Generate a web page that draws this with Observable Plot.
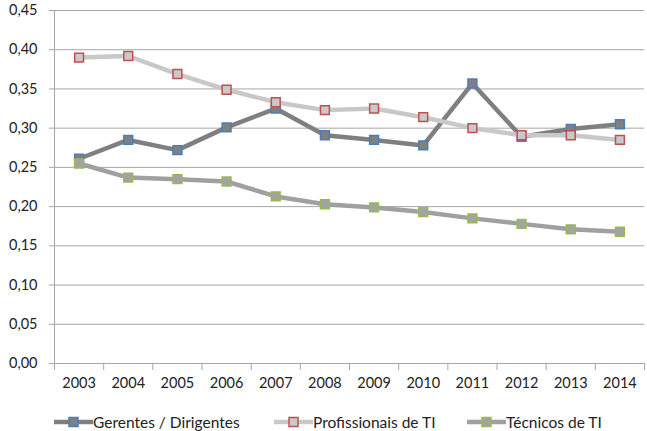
<!DOCTYPE html>
<html>
<head>
<meta charset="utf-8">
<script src="https://cdn.jsdelivr.net/npm/d3@7"></script>
<script src="https://cdn.jsdelivr.net/npm/@observablehq/plot@0.6"></script>
<style>
  html, body { margin: 0; padding: 0; background: #fff; }
  #chart { width: 647px; }
  #legend { height: 31px; font-family: Lato, sans-serif; font-size: 15.5px; color: #222; position: relative; }
  .item { position: absolute; display: flex; align-items: center; top: 13px; }
</style>
</head>
<body>
<div id="chart"></div>
<div id="legend"></div>
<script>
const years = [2003, 2004, 2005, 2006, 2007, 2008, 2009, 2010, 2011, 2012, 2013, 2014];
const gerentes = [0.261, 0.285, 0.272, 0.301, 0.325, 0.291, 0.285, 0.278, 0.357, 0.289, 0.299, 0.305];
const profissionais = [0.390, 0.392, 0.369, 0.349, 0.333, 0.323, 0.325, 0.314, 0.300, 0.291, 0.291, 0.285];
const tecnicos = [0.255, 0.237, 0.235, 0.232, 0.213, 0.203, 0.199, 0.193, 0.185, 0.178, 0.171, 0.168];
const seriesNames = ["Gerentes / Dirigentes", "Profissionais de TI", "Técnicos de TI"];
const yTicks = [0, 0.05, 0.10, 0.15, 0.20, 0.25, 0.30, 0.35, 0.40, 0.45];

const styles = [
  {line: "#7f7f7f", fill: "#808080", border: "#4a7ebb"},
  {line: "#c8c8c8", fill: "#c9c9c9", border: "#c0504d"},
  {line: "#a0a0a0", fill: "#a3a3a3", border: "#98b954"}
];
const allValues = [gerentes, profissionais, tecnicos];
const series = allValues.map((vals, i) => vals.map((v, j) => ({year: years[j], value: v, name: seriesNames[i]})));
const boundaries = [...years.map(y => y - 0.5), years[years.length - 1] + 0.5];

const fmt = d => d.toFixed(2).replace(".", ",");

const marks = [
  Plot.gridY(yTicks, {stroke: "#a6a6a6", strokeOpacity: 1, strokeWidth: 1}),
  Plot.axisY(yTicks, {tickSize: 5, tickPadding: 12, tickFormat: fmt, stroke: "#a6a6a6", fill: "#222", label: null}),
  Plot.ruleX([boundaries[0]], {stroke: "#a6a6a6"}),
  Plot.ruleY([0], {stroke: "#a6a6a6"}),
  Plot.axisX(boundaries, {tickSize: 7, tickFormat: () => "", stroke: "#a6a6a6", label: null}),
  Plot.axisX(years, {tickSize: 0, tickPadding: 14, tickFormat: d => String(d), fill: "#222", label: null})
];
series.forEach((s, i) => {
  marks.push(Plot.line(s, {x: "year", y: "value", stroke: styles[i].line, strokeWidth: 4.5, strokeLinejoin: "round"}));
  marks.push(Plot.dot(s, {x: "year", y: "value", symbol: "square", r: 5, fill: styles[i].fill, stroke: styles[i].border, strokeWidth: 1.5}));
});

const chart = Plot.plot({
  width: 647,
  height: 400,
  marginLeft: 54,
  marginRight: 3,
  marginTop: 10,
  marginBottom: 37,
  style: {fontFamily: "Lato, sans-serif", fontSize: "14.5px", background: "#fff", color: "#222"},
  x: {type: "linear", domain: [boundaries[0], boundaries[boundaries.length - 1]], axis: null},
  y: {domain: [0, 0.45], axis: null},
  marks
});
document.getElementById("chart").appendChild(chart);

// Legend
const legend = document.getElementById("legend");
const lefts = [54, 274, 467];
seriesNames.forEach((name, i) => {
  const item = document.createElement("div");
  item.className = "item";
  item.style.left = lefts[i] + "px";
  item.innerHTML = `<svg width="39" height="14" style="display:block"><line x1="0" x2="39" y1="7" y2="7" stroke="${styles[i].line}" stroke-width="4.5" stroke-linecap="round"/><rect x="15" y="2.5" width="9" height="9" fill="${styles[i].fill}" stroke="${styles[i].border}" stroke-width="1.5"/></svg><span>${name}</span>`;
  legend.appendChild(item);
});
</script>
</body>
</html>
